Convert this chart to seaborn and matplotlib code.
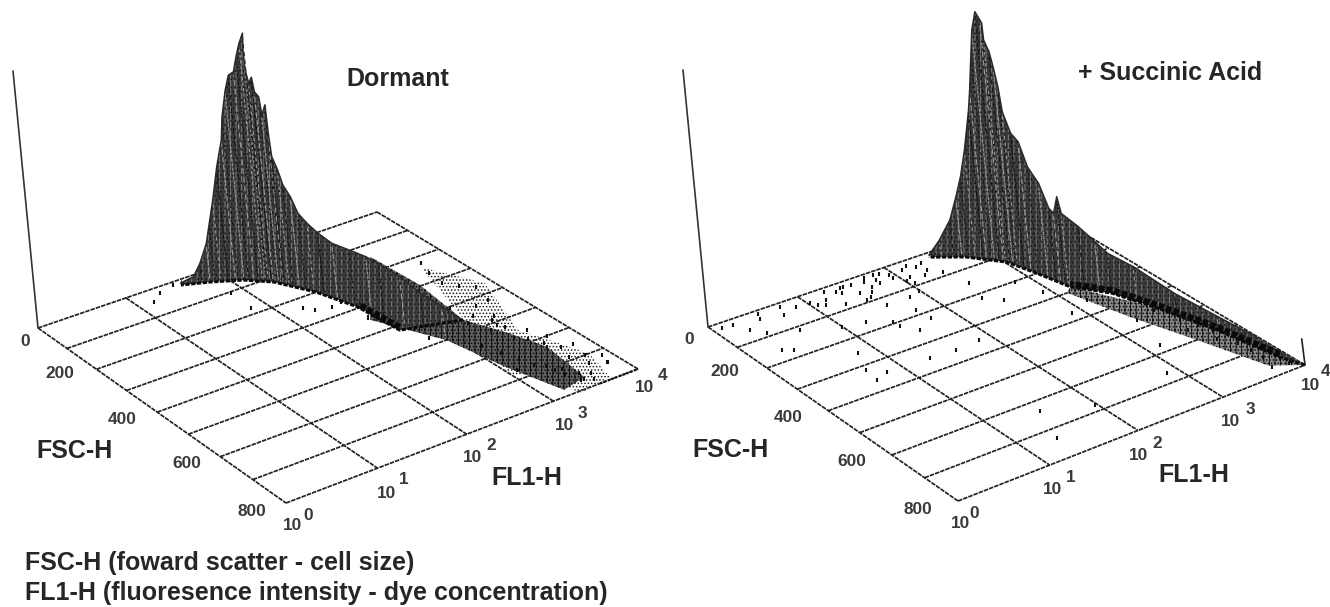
import numpy as np
import pandas as pd
import seaborn as sns
import matplotlib
matplotlib.use('Agg')
import matplotlib.pyplot as plt

# ---------- values ----------
fsc_ticks = [0, 200, 400, 600, 800]
fsc_grid = [0, 100, 200, 300, 400, 500, 600, 700, 800]
fl_grid = [0, 1, 2, 3, 4]
fl_exponents = ['0', '1', '2', '3', '4']

# Dormant: silhouette of the histogram (log10 FL1, FSC, relative height)
dm_fl = [1.59,1.70,1.76,1.83,1.87,1.92,1.98,2.04,2.06,2.11,2.14,2.18,2.21,2.24,2.27,2.26,2.26,2.28,2.30,2.31,2.33,2.34,2.36,2.36,2.37,2.39,2.41,2.44,2.47,2.51,2.55,2.59,2.65,2.69,2.72,2.78,2.85,2.93,3.00]
dm_fsc = [13,27,35,43,48,53,60,67,71,76,83,90,95,101,107,106,107,109,114,117,124,126,134,136,137,147,154,167,179,195,217,250,289,331,362,411,454,497,540]
dm_z = [0.000,0.023,0.073,0.149,0.226,0.316,0.444,0.547,0.637,0.739,0.799,0.813,0.873,0.926,0.966,0.901,0.823,0.771,0.796,0.740,0.724,0.654,0.697,0.587,0.497,0.450,0.395,0.355,0.296,0.265,0.239,0.220,0.217,0.219,0.213,0.194,0.154,0.127,0.101]
# Dormant: foot of the histogram on the floor
db_fl = [3.30,2.70,2.66,2.52,2.32,2.11,1.84,1.57]
db_fsc = [457,417,296,199,118,76,45,20]
# Dormant: dense and sparse cell clouds on the floor
dc_fl = [3.37,3.40,3.30,3.48,3.60,3.51,3.21,3.05,2.93,2.60]
dc_fsc = [146,296,457,549,634,765,779,647,500,351]
do_fl = [3.63,3.92,3.59,3.83,3.70,3.30,3.20,3.00]
do_fsc = [239,364,550,699,792,807,732,669]
# Dormant: single events
dd_fl = [1.17,1.31,1.51,1.86,1.83,2.23,2.30,2.47,2.60,2.62,3.81,3.56,3.62,3.68,3.59,3.73,3.68,3.52,3.53,2.82,2.60,3.87,3.71,3.60,3.64,3.38,3.45,3.10,
         3.02,3.10,3.14,3.20,3.26,3.30,3.34,3.38,3.42,3.46,3.50,3.55,3.58,3.62,3.66,3.70,3.74,3.78,3.82,3.86,3.90,3.12,3.18,3.24,3.28,3.36,3.40,3.44,3.48,3.52,3.56,3.60]
dd_fsc = [44,24,10,106,178,238,258,266,260,339,366,429,269,346,316,423,226,490,525,476,344,746,730,633,687,712,769,670,
          310,350,300,395,340,470,405,520,455,570,510,590,480,620,560,650,600,700,655,745,720,560,600,640,675,690,735,715,770,745,780,760]

# Succinic acid: silhouette, foot, sparse cloud, single events
sm_fl = [2.48,2.57,2.67,2.73,2.78,2.82,2.87,2.89,2.92,2.94,2.97,3.00,3.01,3.01,3.03,3.04,3.05,3.05,3.07,3.09,3.11,3.14,3.16,3.17,3.18,3.19,3.28,3.37,3.44,3.53,3.67,3.83,3.93]
sm_fsc = [17,31,45,56,64,75,88,93,101,106,114,119,122,123,132,139,145,152,168,185,203,227,248,260,273,280,307,333,352,408,497,584,683]
sm_z = [0.008,0.066,0.144,0.235,0.314,0.421,0.580,0.660,0.805,0.897,0.971,0.940,0.928,0.863,0.822,0.761,0.694,0.600,0.526,0.504,0.417,0.367,0.283,0.272,0.345,0.284,0.243,0.193,0.154,0.134,0.081,0.040,0.020]
sb_fl = [4.00,3.91,3.78,3.59,3.44,3.20,3.11,3.02,2.76,2.49]
sb_fsc = [800,748,593,447,353,284,197,126,59,19]
so_fl = [3.20,3.59,3.78,3.91,4.00,3.72,3.50,3.28,3.10]
so_fsc = [284,447,593,748,800,760,600,450,300]
sd_fl = [0.09,0.21,0.28,0.37,0.48,0.69,0.88,0.65,0.30,0.39,1.35,1.42,1.54,1.68,1.79,1.95,2.11,2.26,2.30,1.51,1.49,1.58,1.85,1.98,1.74,1.76,1.23,1.43,1.43,1.54,1.00,0.82,0.70,0.83,0.67,1.30,1.58,1.87,2.46,2.38,2.53,2.84,2.93,3.16,2.88,3.30,3.16,2.87,1.51,1.34,1.98,3.56,3.73,3.67,3.77,3.78,3.79,3.70,3.67,3.55,3.57,3.90,3.90,1.06,1.18,1.38,1.68,1.78,1.94,2.09,
         0.52,0.75,1.02,1.12,1.25,1.46,1.62,1.72,1.88,2.02,2.18,2.34,1.28,1.56,1.82,2.06,2.22,2.40,3.42,3.50,3.60,3.62,3.72,3.74,3.82,3.84,3.88,3.92,3.95,3.94]
sd_fsc = [21,22,57,87,31,46,32,115,158,173,27,21,22,25,34,32,29,35,59,60,92,131,129,122,181,225,161,193,216,251,151,254,316,345,359,352,356,350,153,218,250,202,267,346,372,469,573,666,637,733,679,559,767,619,658,693,727,555,492,457,374,752,776,51,44,40,52,50,48,62,
          12,16,36,62,14,18,70,12,18,72,22,30,82,85,14,88,74,86,330,395,440,520,470,590,540,640,610,690,740,770]
# Succinic acid: small spike in the top channel
spike_fl = [4.00, 4.03]
spike_fsc = [800, 790]
spike_z = [0.00, 0.09]

TITLES = ['Dormant', '+ Succinic Acid']
FOOTER = ['FSC-H (foward scatter - cell size)',
          'FL1-H (fluoresence intensity - dye concentration)']

# ---------- view of each panel (floor corners on the canvas) ----------
VIEW_L = [(38, 328), (377, 212), (638, 369), (286, 503)]
VIEW_R = [(708, 327), (1048, 212), (1305, 365), (958, 501)]
Z_VEC = (-25, -257)
INK = '#262626'


def homography(corners):
    src = [(0, 0), (4, 0), (4, 800), (0, 800)]
    a, b = [], []
    for (u, v), (x, y) in zip(src, corners):
        a.append([u, v, 1, 0, 0, 0, -u * x, -v * x]); b.append(x)
        a.append([0, 0, 0, u, v, 1, -u * y, -v * y]); b.append(y)
    return np.append(np.linalg.solve(np.array(a, float), np.array(b, float)), 1).reshape(3, 3)


def projector(corners):
    h = homography(corners)

    def proj(fl, fsc, z=0.0):
        fl, fsc = np.asarray(fl, float), np.asarray(fsc, float)
        z = np.broadcast_to(np.asarray(z, float), fl.shape)
        w = h[2, 0] * fl + h[2, 1] * fsc + 1
        x = (h[0, 0] * fl + h[0, 1] * fsc + h[0, 2]) / w + Z_VEC[0] * z
        y = (h[1, 0] * fl + h[1, 1] * fsc + h[1, 2]) / w + Z_VEC[1] * z
        return x, y
    return proj


sns.set_theme(style='white', rc={'hatch.linewidth': 0.7})
plt.rcParams['font.family'] = ['Liberation Sans', 'DejaVu Sans']

fig = plt.figure(figsize=(13.3, 6.07), dpi=100)
ax = fig.add_axes([0, 0, 1, 1])
ax.set_xlim(0, 1330)
ax.set_ylim(607, 0)
ax.axis('off')


def draw_frame(proj):
    dash = (0, (2.6, 0.6))
    for f in fsc_grid:
        x, y = proj([0, 1, 2, 3, 4], [f] * 5)
        ax.plot(x, y, color='#222222', lw=1.25, ls=dash, zorder=1)
    for c in fl_grid:
        x, y = proj([c, c], [0, 800])
        ax.plot(x, y, color='#222222', lw=1.25, ls=dash, zorder=1)
    x, y = proj([0, 0], [0, 0], [0, 1])
    ax.plot(x, y, color='#333333', lw=1.2, zorder=1)


def draw_cloud(proj, fl, fsc, hatch, color, fill='none', z=2):
    x, y = proj(fl, fsc)
    ax.fill(x, y, facecolor=fill, edgecolor=color, hatch=hatch, linewidth=0, zorder=z)


def draw_mound(proj, fl, fsc, zz, bfl, bfsc, dark_from):
    tx, ty = proj(fl, fsc, zz)
    bx, by = proj(bfl, bfsc)
    px, py = np.r_[tx, bx], np.r_[ty, by]
    ax.fill(px, py, facecolor='#3a3a3a', edgecolor='#7c7c7c', hatch='|||', linewidth=0, zorder=4)
    ax.fill(px, py, facecolor='none', edgecolor='#1c1c1c', hatch='....', linewidth=0, zorder=5)
    fx, fy = proj(fl, fsc)
    for i in range(len(fl)):
        shade = '#9a9a9a' if i % 2 else '#141414'
        ax.plot([fx[i], tx[i]], [fy[i] - 3, ty[i] + 3], color=shade, lw=0.8,
                ls=(i % 3, (2 + i % 4, 1 + i % 3)), zorder=5)
    ax.plot(tx, ty, color='#2a2a2a', lw=1.1, zorder=6)
    ax.plot(bx, by, color='#0c0c0c', lw=2.2, ls=(0, (1.4, 0.5)), zorder=6)
    ax.plot(bx[dark_from[0]:dark_from[1]], by[dark_from[0]:dark_from[1]] - 3, color='#0a0a0a',
            lw=4.5, ls=(0, (0.9, 0.35)), zorder=6)


def draw_events(proj, fl, fsc):
    x, y = proj(fl, fsc)
    frame = pd.DataFrame({'x': x, 'y': y})
    sns.scatterplot(data=frame, x='x', y='y', ax=ax, s=9, color='#111111',
                    marker='|', linewidth=1.5, legend=False, zorder=3)


def label(x, y, s, size=12.4, weight='bold', color='#3a3a3a'):
    ax.text(x, y, s, fontsize=size, fontweight=weight, color=color, ha='center', va='center', zorder=8)


def draw_labels(fsc_xy, pow_xy, sup_xy, fsc_name, fl_name, title_xy, title):
    for (x, y), t in zip(fsc_xy, fsc_ticks):
        label(x, y, str(t))
    for (x, y), (sx, sy), e in zip(pow_xy, sup_xy, fl_exponents):
        label(x, y, '10')
        label(sx, sy, e)
    label(*fsc_name, 'FSC-H', size=18, color=INK)
    label(*fl_name, 'FL1-H', size=18, color=INK)
    label(*title_xy, title, size=18, color=INK)


# Dormant panel
pl = projector(VIEW_L)
draw_frame(pl)
draw_cloud(pl, do_fl, do_fsc, '.....', '#1a1a1a')
draw_cloud(pl, dc_fl, dc_fsc, '|||.....', '#0d0d0d', fill='#606060', z=2)
x_edge, y_edge = pl([3.55, 4.0], [800, 800])
ax.plot(x_edge, y_edge, color='#111111', lw=1.6, ls=(0, (1, 0.8)), zorder=3)
draw_events(pl, dd_fl, dd_fsc)
draw_mound(pl, dm_fl, dm_fsc, dm_z, db_fl, db_fsc, (1, 3))
draw_labels([(25, 342), (60, 373), (122, 420), (187, 464), (252, 511)],
            [(292, 525), (387, 493), (472, 458), (565, 425), (645, 388)],
            [(308, 516), (404, 480), (491, 446), (582, 413), (663, 376)],
            (75, 451), (527, 478), (398, 79), TITLES[0])

# Succinic acid panel
pr = projector(VIEW_R)
draw_frame(pr)
draw_cloud(pr, so_fl, so_fsc, '|||.....', '#111111', fill='#8a8a8a')
draw_events(pr, sd_fl, sd_fsc)
draw_mound(pr, sm_fl, sm_fsc, sm_z, sb_fl, sb_fsc, (1, 6))
sx_, sy_ = pr(spike_fl, spike_fsc, spike_z)
ax.plot(sx_, sy_, color='#222222', lw=1.2, zorder=6)
draw_labels([(689, 340), (725, 372), (788, 418), (852, 462), (918, 509)],
            [(960, 523), (1053, 490), (1138, 455), (1231, 422), (1311, 386)],
            [(974, 513), (1071, 477), (1157, 443), (1250, 410), (1326, 372)],
            (730, 450), (1194, 475), (1170, 73), TITLES[1])

# Footer
for yy, line in zip((563, 593), FOOTER):
    ax.text(25, yy, line, fontsize=18, fontweight='bold', color=INK, ha='left', va='center', zorder=8)

fig.savefig('out.png', dpi=100)
